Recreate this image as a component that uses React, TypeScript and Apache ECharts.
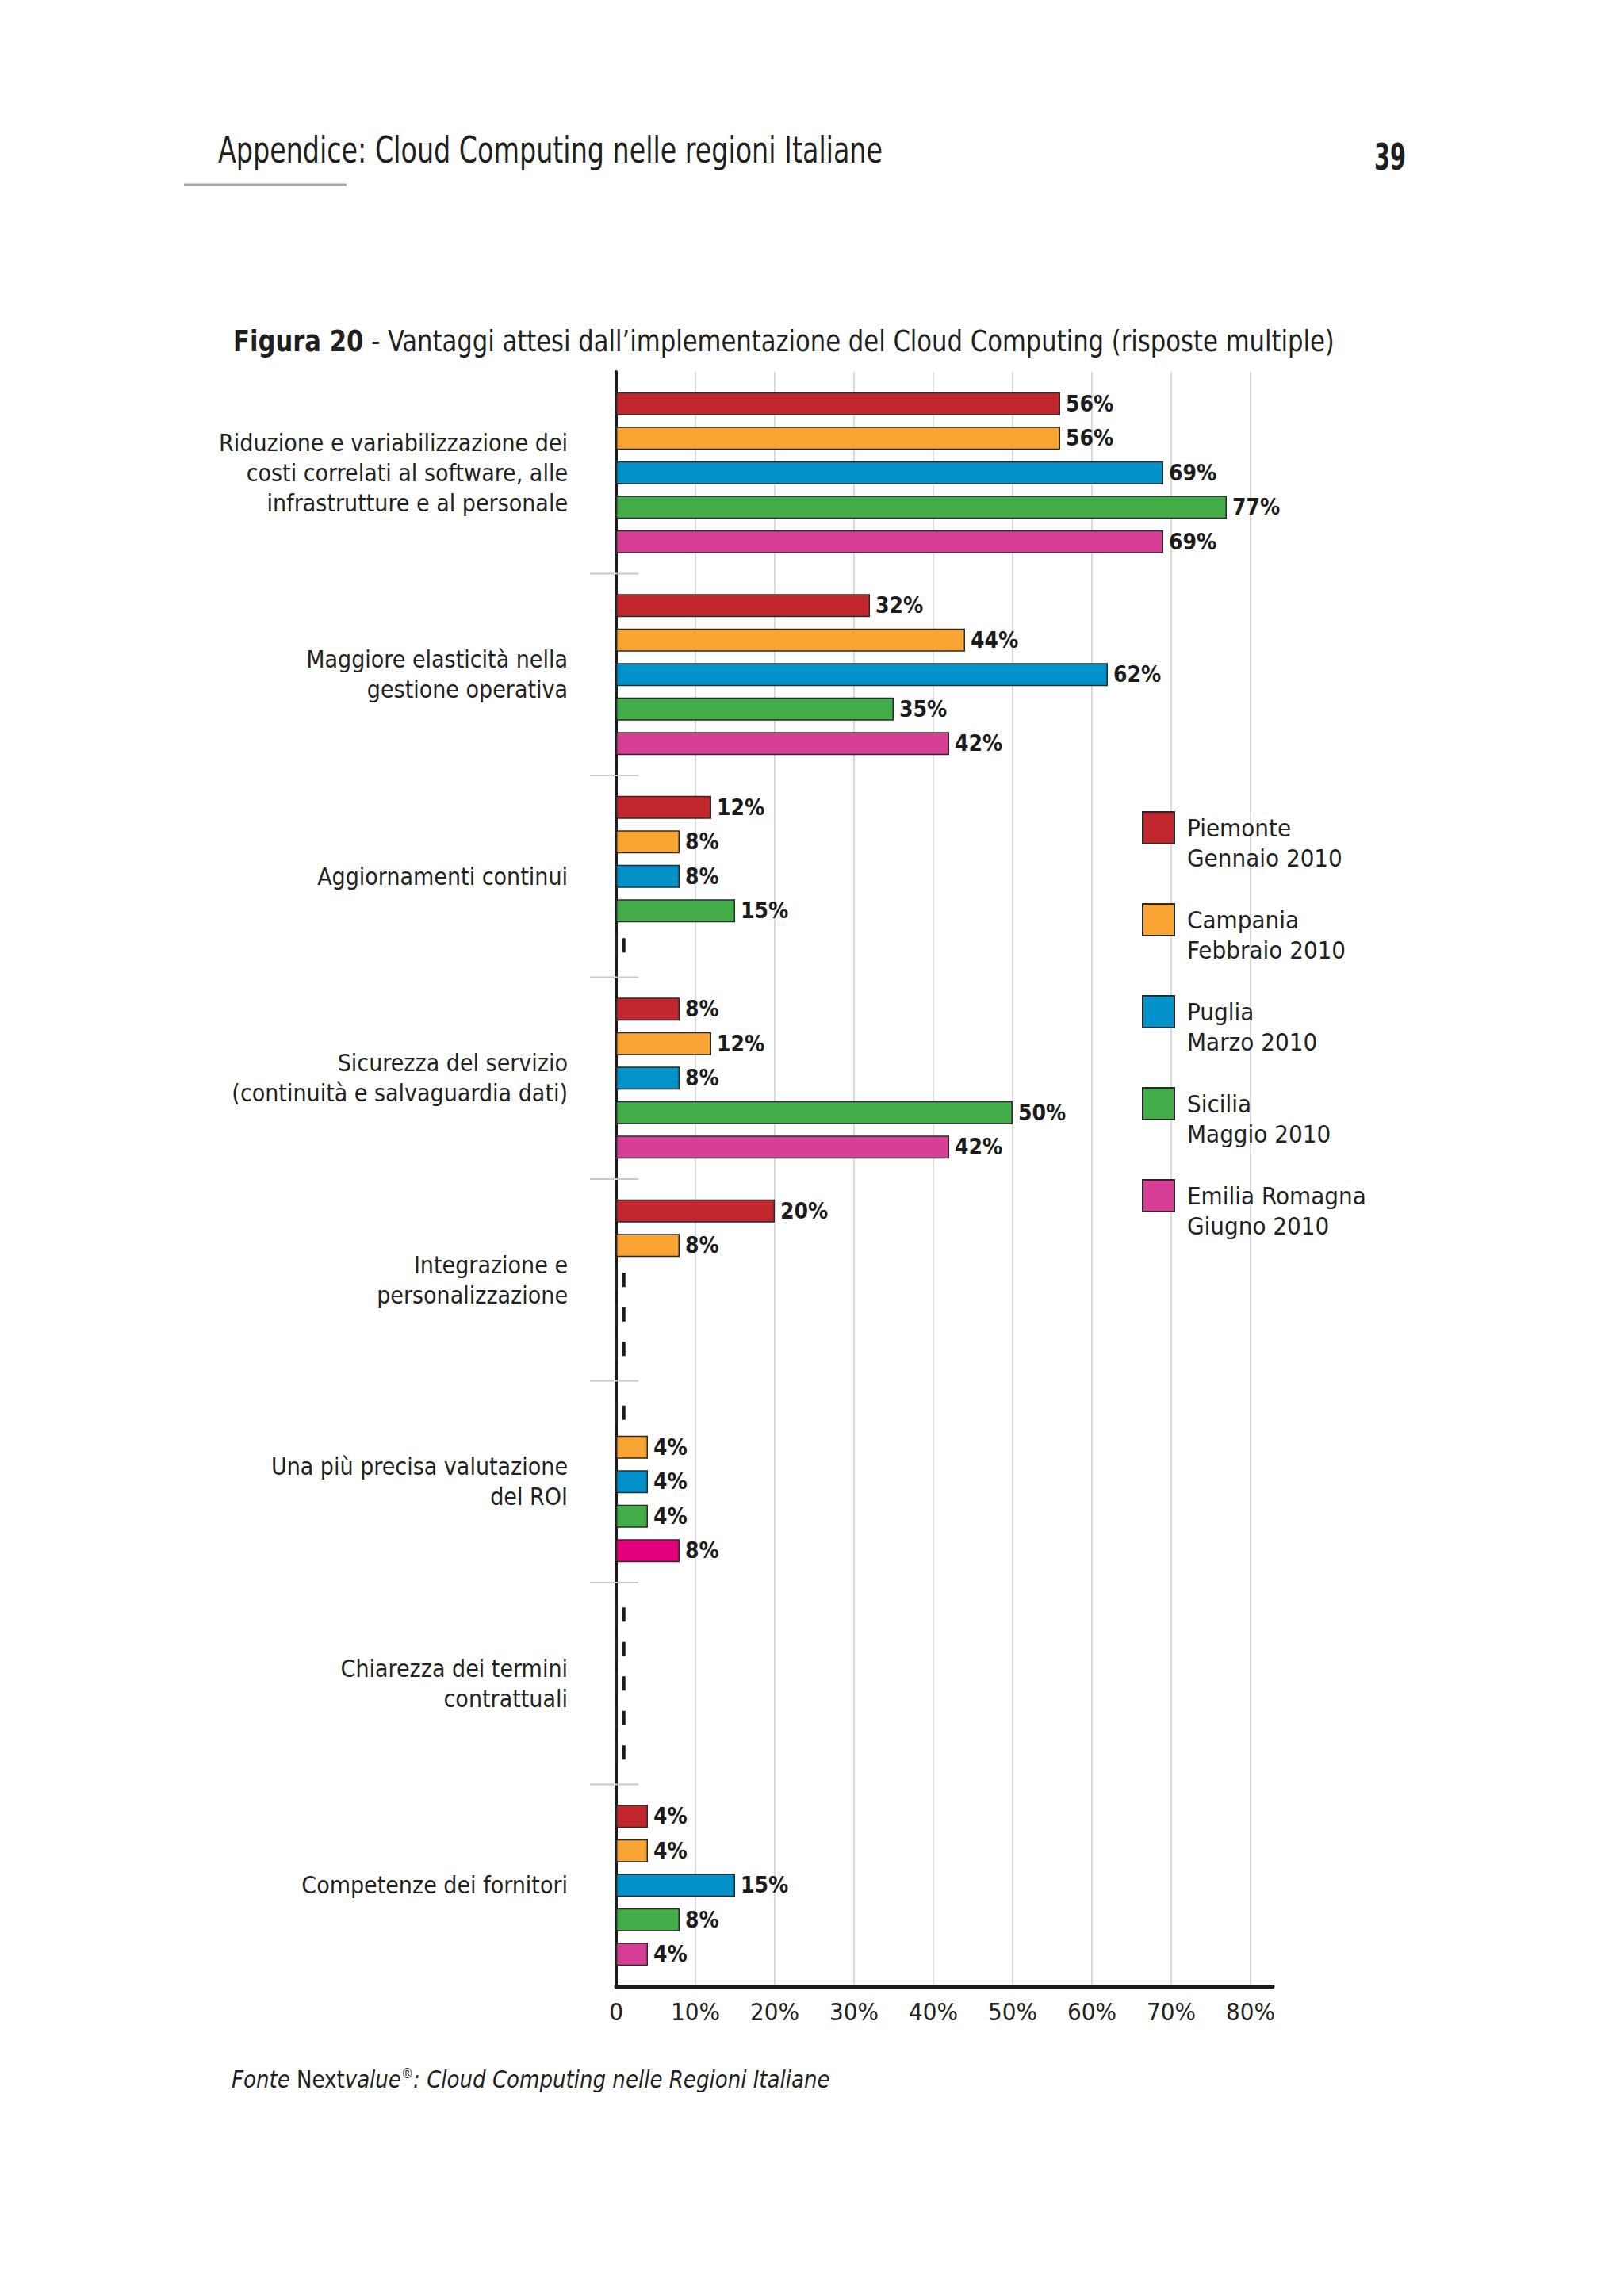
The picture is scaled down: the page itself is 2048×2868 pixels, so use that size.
import React, { useEffect, useRef } from "react";
import * as echarts from "echarts";

// ---------- data ----------
const categories = [
  "Riduzione e variabilizzazione dei\ncosti correlati al software, alle\ninfrastrutture e al personale",
  "Maggiore elasticità nella\ngestione operativa",
  "Aggiornamenti continui",
  "Sicurezza del servizio\n(continuità e salvaguardia dati)",
  "Integrazione e\npersonalizzazione",
  "Una più precisa valutazione\ndel ROI",
  "Chiarezza dei termini\ncontrattuali",
  "Competenze dei fornitori",
];
const regions = ["Piemonte", "Campania", "Puglia", "Sicilia", "Emilia Romagna"];
const periods = ["Gennaio 2010", "Febbraio 2010", "Marzo 2010", "Maggio 2010", "Giugno 2010"];
const colors = ["#c1272d", "#f8a534", "#0092c8", "#43ad4a", "#d63f95"];
// 0 = no answer (drawn as a small dash)
const piemonte = [56, 32, 12, 8, 20, 0, 0, 4];
const campania = [56, 44, 8, 12, 8, 4, 0, 4];
const puglia = [69, 62, 8, 8, 0, 4, 0, 15];
const sicilia = [77, 35, 15, 50, 0, 4, 0, 8];
const emilia = [69, 42, 0, 42, 0, 8, 0, 4];
const seriesValues = [piemonte, campania, puglia, sicilia, emilia];
const xTickStep = 10;
const xTickMax = 80;

const headerText = "Appendice: Cloud Computing nelle regioni Italiane";
const pageNumber = "39";
const titleBold = "Figura 20";
const titleRest = " - Vantaggi attesi dall’implementazione del Cloud Computing (risposte multiple)";
const footerParts = ["Fonte ", "Next", "value", "®", ": Cloud Computing nelle Regioni Italiane"];

const NARROW = '"Liberation Sans Narrow", "Arial Narrow", "DejaVu Sans Condensed", sans-serif';

function measure(text: string, font: string): number {
  const c = document.createElement("canvas").getContext("2d");
  if (!c) return 1;
  c.font = font;
  return c.measureText(text).width || 1;
}

export default function App() {
  const ref = useRef<HTMLDivElement>(null);
  useEffect(() => {
    if (!ref.current) return;
    const chart = echarts.init(ref.current, undefined, { renderer: "svg" });

    const headerFont = `46px ${NARROW}`;
    const headerScale = 838 / measure(headerText, headerFont);
    const pnFont = `bold 46px ${NARROW}`;
    const pnScale = 40 / measure(pageNumber, pnFont);
    const tBoldFont = `bold 38px ${NARROW}`;
    const tFont = `38px ${NARROW}`;
    const titleScale = 1389 / (measure(titleBold, tBoldFont) + measure(titleRest, tFont));
    const fI = `italic 31px ${NARROW}`;
    const fN = `31px ${NARROW}`;
    const fS = `18px ${NARROW}`;
    const footW =
      measure(footerParts[0], fI) +
      measure(footerParts[1], fN) +
      measure(footerParts[2], fI) +
      measure(footerParts[3], fS) +
      measure(footerParts[4], fI);
    const footScale = 755 / footW;

    const bars = regions.map((name, si) => ({
      type: "bar",
      name,
      barWidth: 29,
      barGap: "50%",
      z: 2,
      data: seriesValues[si].map((v, j) =>
        si === 4 && j === 5 ? { value: v, itemStyle: { color: "#e4007c" } } : { value: v }
      ),
      itemStyle: { color: colors[si], borderColor: "#2a2a2a", borderWidth: 1.5 },
      label: {
        show: true,
        position: "right",
        distance: 7,
        formatter: (p: any) => (p.value === 0 ? "{d| }" : `${p.value}%`),
        fontFamily: NARROW,
        fontSize: 28,
        fontWeight: "bold",
        color: "#1c1c1c",
        rich: { d: { width: 4, height: 18, backgroundColor: "#1c1c1c" } },
      },
    }));

    const separators = {
      type: "custom",
      coordinateSystem: "cartesian2d",
      silent: true,
      z: 3,
      clip: false,
      data: categories.slice(1).map((_, i) => [0, i + 1]),
      encode: { x: 0, y: 1 },
      renderItem: (params: any, api: any) => {
        const p = api.coord([0, api.value(1)]);
        const band = api.size([0, 1])[1];
        const y = p[1] - band / 2;
        return {
          type: "line",
          shape: { x1: p[0] - 33, y1: y, x2: p[0] + 28, y2: y },
          style: { stroke: "#c8c8c8", lineWidth: 2 },
        };
      },
    };

    chart.setOption({
      animation: false,
      backgroundColor: "#ffffff",
      textStyle: { fontFamily: NARROW },
      grid: { left: 777, top: 469, width: 828, height: 2036, containLabel: false },
      xAxis: {
        type: "value",
        min: 0,
        max: 82.8,
        interval: xTickStep,
        axisLine: { show: true, lineStyle: { color: "#1c1c1c", width: 5 } },
        axisTick: { show: false },
        splitLine: {
          show: true,
          showMinLine: false,
          showMaxLine: false,
          lineStyle: { color: "#dadada", width: 2 },
        },
        axisLabel: {
          showMaxLabel: false,
          margin: 16,
          fontSize: 31,
          color: "#222",
          fontFamily: NARROW,
          formatter: (v: number) =>
            v % xTickStep !== 0 || v > xTickMax ? "" : v === 0 ? "0" : `${v}%`,
        },
      },
      yAxis: {
        type: "category",
        data: categories,
        inverse: true,
        axisLine: { show: true, lineStyle: { color: "#1c1c1c", width: 4 } },
        axisTick: { show: false },
        splitLine: { show: false },
        axisLabel: {
          margin: 61,
          fontSize: 30,
          lineHeight: 38,
          color: "#222",
          fontFamily: NARROW,
        },
      },
      legend: {
        orient: "vertical",
        left: 1440,
        top: 987,
        padding: 0,
        itemWidth: 40,
        itemHeight: 40,
        itemGap: 2,
        icon: "rect",
        selectedMode: false,
        data: regions,
        formatter: (name: string) => `\n${name}\n${periods[regions.indexOf(name)]}`,
        textStyle: {
          fontSize: 31,
          lineHeight: 38,
          color: "#222",
          fontFamily: NARROW,
          padding: [0, 0, 0, 11],
        },
      },
      graphic: [
        {
          type: "text",
          x: 275,
          y: 189,
          scaleX: headerScale,
          style: { text: headerText, font: headerFont, fill: "#1f1f1f", verticalAlign: "middle", align: "left" },
        },
        {
          type: "line",
          shape: { x1: 232, y1: 233, x2: 437, y2: 233 },
          style: { stroke: "#a8a8a8", lineWidth: 3 },
        },
        {
          type: "text",
          x: 1733,
          y: 198,
          scaleX: pnScale,
          style: { text: pageNumber, font: pnFont, fill: "#1f1f1f", verticalAlign: "middle", align: "left" },
        },
        {
          type: "text",
          x: 294,
          y: 430,
          scaleX: titleScale,
          style: {
            text: `{b|${titleBold}}{n|${titleRest}}`,
            verticalAlign: "middle",
            align: "left",
            fill: "#1f1f1f",
            rich: {
              b: { font: tBoldFont, fill: "#1f1f1f" },
              n: { font: tFont, fill: "#1f1f1f" },
            },
          },
        },
        {
          type: "text",
          x: 292,
          y: 2622,
          scaleX: footScale,
          style: {
            text: `{i|${footerParts[0]}}{n|${footerParts[1]}}{i|${footerParts[2]}}{s|${footerParts[3]}}{i|${footerParts[4]}}`,
            verticalAlign: "middle",
            align: "left",
            fill: "#1f1f1f",
            rich: {
              i: { font: fI, fill: "#1f1f1f" },
              n: { font: fN, fill: "#1f1f1f" },
              s: { font: fS, fill: "#1f1f1f", padding: [0, 0, 14, 0] },
            },
          },
        },
      ],
      series: [...bars, separators],
    });

    return () => chart.dispose();
  }, []);

  return (
    <div
      ref={ref}
      style={{ position: "absolute", left: 0, top: 0, width: 2048, height: 2868, background: "#fff" }}
    />
  );
}
